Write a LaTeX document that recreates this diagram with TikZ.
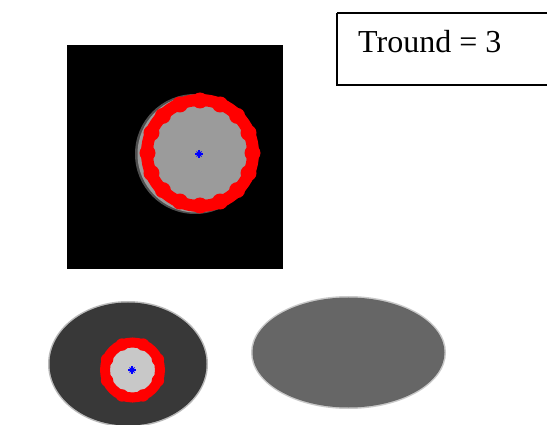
\documentclass[tikz,border=0pt]{standalone}
\usepackage{fontspec}
\setmainfont{Liberation Serif}
\usetikzlibrary{calc}
\begin{document}
\begin{tikzpicture}[x=1pt,y=-1pt,
  redbump/.style={fill=red},
  bluestar/.style={blue, line width=1.2pt},
  label/.style={font=\fontsize{32}{36}\selectfont, inner sep=0pt, anchor=base west}]
\definecolor{midgray}{RGB}{155,155,155}
\definecolor{darkgray2}{RGB}{56,56,56}
\definecolor{lightgray2}{RGB}{200,200,200}
\definecolor{ellgray}{RGB}{102,102,102}
\useasboundingbox (0,0) rectangle (547,425);
\clip (0,0) rectangle (547,425);
% text box
\draw[line width=1.5pt] (337,13) -- (560,13) (337,13) -- (337,85) -- (560,85);
\node[label] (tr) at (358,53) {Tround = 3};
% top image
\fill[black] (67,45) rectangle (283,269);
\fill[midgray!50!black] (195,154) circle[radius=60];
\fill[midgray] (196,154) circle[radius=58.5];
\draw[red, line width=12pt] (200,153) circle[radius=53];
\foreach \a in {0,22.5,...,359} {\fill[redbump] ($(200,153)+(\a:52.5)$) circle[radius=8];}
\coordinate (c1) at (199,154);
\draw[bluestar] ($(c1)+(-4,0)$) -- ($(c1)+(4,0)$) ($(c1)+(0,-4)$) -- ($(c1)+(0,4)$);
\draw[blue, line width=0.8pt] ($(c1)+(-2.5,-2.5)$) -- ($(c1)+(2.5,2.5)$) ($(c1)+(-2.5,2.5)$) -- ($(c1)+(2.5,-2.5)$);
% bottom left ellipse
\fill[darkgray2!35!white] (128,364) ellipse[x radius=80, y radius=63];
\fill[darkgray2] (128,364) ellipse[x radius=78.5, y radius=61.5];
\fill[lightgray2] (132.5,370) circle[radius=24];
\draw[red, line width=10pt] (132.5,370) circle[radius=27.5];
\foreach \a in {22.5,67.5,...,359} {\fill[redbump] ($(132.5,370)+(\a:27.5)$) circle[radius=6.2];}
\coordinate (c2) at (132,370);
\draw[bluestar] ($(c2)+(-4,0)$) -- ($(c2)+(4,0)$) ($(c2)+(0,-4)$) -- ($(c2)+(0,4)$);
\draw[blue, line width=0.8pt] ($(c2)+(-2.5,-2.5)$) -- ($(c2)+(2.5,2.5)$) ($(c2)+(-2.5,2.5)$) -- ($(c2)+(2.5,-2.5)$);
% bottom right ellipse
\fill[ellgray!35!white] (348.5,352.5) ellipse[x radius=97.5, y radius=56.5];
\fill[ellgray] (348.5,352.5) ellipse[x radius=96, y radius=55];
\end{tikzpicture}
\end{document}
